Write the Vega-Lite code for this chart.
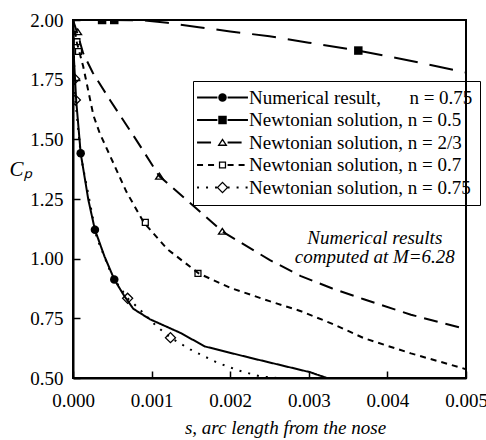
{
  "$schema": "https://vega.github.io/schema/vega-lite/v6.json",
  "width": 393,
  "height": 358,
  "autosize": {"type": "none"},
  "padding": {"left": 73, "top": 20, "right": 20, "bottom": 62},
  "background": "white",
  "config": {
    "font": "Liberation Serif",
    "view": {"stroke": "black", "strokeWidth": 2},
    "axis": {
      "grid": false,
      "domainColor": "black",
      "domainWidth": 2,
      "tickColor": "black",
      "tickWidth": 1.5,
      "labelFont": "Liberation Serif",
      "labelFontSize": 19,
      "labelColor": "black",
      "labelFlush": false,
      "labelOverlap": false,
      "titleFont": "Liberation Serif",
      "titleFontSize": 19,
      "titleFontStyle": "italic",
      "titleFontWeight": "normal",
      "titleColor": "black"
    }
  },
  "datasets": {
    "curves": [
      {"series": "Numerical result,\u00a0\u00a0\u00a0\u00a0\u00a0\u00a0n = 0.75", "s": 0, "cp": 1.99},
      {"series": "Numerical result,\u00a0\u00a0\u00a0\u00a0\u00a0\u00a0n = 0.75", "s": 0.00001, "cp": 1.85},
      {"series": "Numerical result,\u00a0\u00a0\u00a0\u00a0\u00a0\u00a0n = 0.75", "s": 0.00004, "cp": 1.665},
      {"series": "Numerical result,\u00a0\u00a0\u00a0\u00a0\u00a0\u00a0n = 0.75", "s": 0.0000977, "cp": 1.442},
      {"series": "Numerical result,\u00a0\u00a0\u00a0\u00a0\u00a0\u00a0n = 0.75", "s": 0.000195, "cp": 1.247},
      {"series": "Numerical result,\u00a0\u00a0\u00a0\u00a0\u00a0\u00a0n = 0.75", "s": 0.000279, "cp": 1.121},
      {"series": "Numerical result,\u00a0\u00a0\u00a0\u00a0\u00a0\u00a0n = 0.75", "s": 0.0004, "cp": 1.01},
      {"series": "Numerical result,\u00a0\u00a0\u00a0\u00a0\u00a0\u00a0n = 0.75", "s": 0.000525, "cp": 0.913},
      {"series": "Numerical result,\u00a0\u00a0\u00a0\u00a0\u00a0\u00a0n = 0.75", "s": 0.00065, "cp": 0.845},
      {"series": "Numerical result,\u00a0\u00a0\u00a0\u00a0\u00a0\u00a0n = 0.75", "s": 0.000767, "cp": 0.79},
      {"series": "Numerical result,\u00a0\u00a0\u00a0\u00a0\u00a0\u00a0n = 0.75", "s": 0.00098, "cp": 0.746},
      {"series": "Numerical result,\u00a0\u00a0\u00a0\u00a0\u00a0\u00a0n = 0.75", "s": 0.00136, "cp": 0.69},
      {"series": "Numerical result,\u00a0\u00a0\u00a0\u00a0\u00a0\u00a0n = 0.75", "s": 0.00168, "cp": 0.632},
      {"series": "Numerical result,\u00a0\u00a0\u00a0\u00a0\u00a0\u00a0n = 0.75", "s": 0.00225, "cp": 0.585},
      {"series": "Numerical result,\u00a0\u00a0\u00a0\u00a0\u00a0\u00a0n = 0.75", "s": 0.00302, "cp": 0.524},
      {"series": "Numerical result,\u00a0\u00a0\u00a0\u00a0\u00a0\u00a0n = 0.75", "s": 0.00323, "cp": 0.5},
      {"series": "Newtonian solution, n = 0.5", "s": 0, "cp": 2.0},
      {"series": "Newtonian solution, n = 0.5", "s": 0.0004, "cp": 2.0},
      {"series": "Newtonian solution, n = 0.5", "s": 0.0009, "cp": 1.998},
      {"series": "Newtonian solution, n = 0.5", "s": 0.0012, "cp": 1.988},
      {"series": "Newtonian solution, n = 0.5", "s": 0.0016, "cp": 1.97},
      {"series": "Newtonian solution, n = 0.5", "s": 0.002, "cp": 1.952},
      {"series": "Newtonian solution, n = 0.5", "s": 0.0025, "cp": 1.932},
      {"series": "Newtonian solution, n = 0.5", "s": 0.003, "cp": 1.905},
      {"series": "Newtonian solution, n = 0.5", "s": 0.0036, "cp": 1.873},
      {"series": "Newtonian solution, n = 0.5", "s": 0.0041, "cp": 1.842},
      {"series": "Newtonian solution, n = 0.5", "s": 0.0045, "cp": 1.815},
      {"series": "Newtonian solution, n = 0.5", "s": 0.005, "cp": 1.78},
      {"series": "Newtonian solution, n = 2/3", "s": 0, "cp": 2.0},
      {"series": "Newtonian solution, n = 2/3", "s": 0.00006, "cp": 1.94},
      {"series": "Newtonian solution, n = 2/3", "s": 0.00013, "cp": 1.86},
      {"series": "Newtonian solution, n = 2/3", "s": 0.00025, "cp": 1.78},
      {"series": "Newtonian solution, n = 2/3", "s": 0.00047, "cp": 1.665},
      {"series": "Newtonian solution, n = 2/3", "s": 0.0008, "cp": 1.5},
      {"series": "Newtonian solution, n = 2/3", "s": 0.0011, "cp": 1.345},
      {"series": "Newtonian solution, n = 2/3", "s": 0.00157, "cp": 1.21},
      {"series": "Newtonian solution, n = 2/3", "s": 0.0019, "cp": 1.114},
      {"series": "Newtonian solution, n = 2/3", "s": 0.0025, "cp": 0.995},
      {"series": "Newtonian solution, n = 2/3", "s": 0.0029, "cp": 0.927},
      {"series": "Newtonian solution, n = 2/3", "s": 0.0033, "cp": 0.875},
      {"series": "Newtonian solution, n = 2/3", "s": 0.0037, "cp": 0.83},
      {"series": "Newtonian solution, n = 2/3", "s": 0.0043, "cp": 0.765},
      {"series": "Newtonian solution, n = 2/3", "s": 0.005, "cp": 0.705},
      {"series": "Newtonian solution, n = 0.7", "s": 0, "cp": 2.0},
      {"series": "Newtonian solution, n = 0.7", "s": 0.00005, "cp": 1.905},
      {"series": "Newtonian solution, n = 0.7", "s": 0.00013, "cp": 1.805},
      {"series": "Newtonian solution, n = 0.7", "s": 0.00026, "cp": 1.6},
      {"series": "Newtonian solution, n = 0.7", "s": 0.00034, "cp": 1.526},
      {"series": "Newtonian solution, n = 0.7", "s": 0.00068, "cp": 1.28},
      {"series": "Newtonian solution, n = 0.7", "s": 0.0009, "cp": 1.152},
      {"series": "Newtonian solution, n = 0.7", "s": 0.0012, "cp": 1.04},
      {"series": "Newtonian solution, n = 0.7", "s": 0.0016, "cp": 0.938},
      {"series": "Newtonian solution, n = 0.7", "s": 0.002, "cp": 0.878},
      {"series": "Newtonian solution, n = 0.7", "s": 0.0025, "cp": 0.822},
      {"series": "Newtonian solution, n = 0.7", "s": 0.0029, "cp": 0.78},
      {"series": "Newtonian solution, n = 0.7", "s": 0.0033, "cp": 0.727},
      {"series": "Newtonian solution, n = 0.7", "s": 0.0037, "cp": 0.667},
      {"series": "Newtonian solution, n = 0.7", "s": 0.0043, "cp": 0.603},
      {"series": "Newtonian solution, n = 0.7", "s": 0.005, "cp": 0.537},
      {"series": "Newtonian solution, n = 0.75", "s": 0, "cp": 2.0},
      {"series": "Newtonian solution, n = 0.75", "s": 0.00002, "cp": 1.753},
      {"series": "Newtonian solution, n = 0.75", "s": 0.00003, "cp": 1.665},
      {"series": "Newtonian solution, n = 0.75", "s": 0.0001, "cp": 1.43},
      {"series": "Newtonian solution, n = 0.75", "s": 0.0003, "cp": 1.09},
      {"series": "Newtonian solution, n = 0.75", "s": 0.0005, "cp": 0.925},
      {"series": "Newtonian solution, n = 0.75", "s": 0.000695, "cp": 0.834},
      {"series": "Newtonian solution, n = 0.75", "s": 0.00081, "cp": 0.8},
      {"series": "Newtonian solution, n = 0.75", "s": 0.00106, "cp": 0.718},
      {"series": "Newtonian solution, n = 0.75", "s": 0.00124, "cp": 0.669},
      {"series": "Newtonian solution, n = 0.75", "s": 0.00149, "cp": 0.62},
      {"series": "Newtonian solution, n = 0.75", "s": 0.00183, "cp": 0.565},
      {"series": "Newtonian solution, n = 0.75", "s": 0.00212, "cp": 0.53},
      {"series": "Newtonian solution, n = 0.75", "s": 0.00238, "cp": 0.507},
      {"series": "Newtonian solution, n = 0.75", "s": 0.0026, "cp": 0.5}
    ],
    "markers": [
      {"series": "Numerical result,\u00a0\u00a0\u00a0\u00a0\u00a0\u00a0n = 0.75", "s": 0.0000977, "cp": 1.442},
      {"series": "Numerical result,\u00a0\u00a0\u00a0\u00a0\u00a0\u00a0n = 0.75", "s": 0.000279, "cp": 1.121},
      {"series": "Numerical result,\u00a0\u00a0\u00a0\u00a0\u00a0\u00a0n = 0.75", "s": 0.000525, "cp": 0.913},
      {"series": "Newtonian solution, n = 0.5", "s": 0.00037, "cp": 2.0},
      {"series": "Newtonian solution, n = 0.5", "s": 0.000525, "cp": 2.0},
      {"series": "Newtonian solution, n = 0.5", "s": 0.00363, "cp": 1.872},
      {"series": "Newtonian solution, n = 2/3", "s": 0.00006, "cp": 1.95},
      {"series": "Newtonian solution, n = 2/3", "s": 0.0011, "cp": 1.345},
      {"series": "Newtonian solution, n = 2/3", "s": 0.0019, "cp": 1.114},
      {"series": "Newtonian solution, n = 0.7", "s": 0.00005, "cp": 1.909},
      {"series": "Newtonian solution, n = 0.7", "s": 0.00007, "cp": 1.868},
      {"series": "Newtonian solution, n = 0.7", "s": 0.00092, "cp": 1.152},
      {"series": "Newtonian solution, n = 0.7", "s": 0.00159, "cp": 0.938},
      {"series": "Newtonian solution, n = 0.75", "s": 0.00002, "cp": 1.753},
      {"series": "Newtonian solution, n = 0.75", "s": 0.00003, "cp": 1.665},
      {"series": "Newtonian solution, n = 0.75", "s": 0.000695, "cp": 0.834},
      {"series": "Newtonian solution, n = 0.75", "s": 0.00124, "cp": 0.669}
    ],
    "note": [
      {"label": ["Numerical results", "computed at M=6.28"]}
    ]
  },
  "layer": [
    {
      "data": {"name": "curves"},
      "mark": {"type": "line", "stroke": "black", "strokeWidth": 2, "clip": true},
      "encoding": {
        "x": {
          "field": "s",
          "type": "quantitative",
          "scale": {"domain": [0, 0.005], "nice": false, "zero": false},
          "axis": {
            "title": "s, arc length from the nose",
            "values": [0, 0.0005, 0.001, 0.0015, 0.002, 0.0025, 0.003, 0.0035, 0.004, 0.0045, 0.005],
            "labelExpr": "abs(datum.value*1000 - round(datum.value*1000)) < 0.000001 ? format(datum.value, '.3f') : ''",
            "tickSize": {"condition": {"test": "abs(datum.value*1000 - round(datum.value*1000)) < 0.000001", "value": -7}, "value": -4},
            "labelPadding": 20,
            "titleX": 212,
            "titleY": 55.5,
            "titleAlign": "center",
            "titleBaseline": "alphabetic"
          }
        },
        "y": {
          "field": "cp",
          "type": "quantitative",
          "scale": {"domain": [0.5, 2.0], "nice": false, "zero": false},
          "axis": {
            "title": "Cₚ",
            "values": [0.5, 0.625, 0.75, 0.875, 1.0, 1.125, 1.25, 1.375, 1.5, 1.625, 1.75, 1.875, 2.0],
            "labelExpr": "datum.value*4 == round(datum.value*4) ? format(datum.value, '.2f') : ''",
            "tickSize": {"condition": {"test": "datum.value*4 == round(datum.value*4)", "value": -7}, "value": -4},
            "labelPadding": 17,
            "titleAngle": 0,
            "titleX": -53,
            "titleY": 149,
            "titleAlign": "center",
            "titleBaseline": "middle",
            "titleFontSize": 21
          }
        },
        "strokeDash": {
          "field": "series",
          "type": "nominal",
          "sort": ["Numerical result,\u00a0\u00a0\u00a0\u00a0\u00a0\u00a0n = 0.75", "Newtonian solution, n = 0.5", "Newtonian solution, n = 2/3", "Newtonian solution, n = 0.7", "Newtonian solution, n = 0.75"],
          "scale": {
            "range": [[1, 0], [24, 12], [14, 8], [6, 5], [2, 7]]
          },
          "legend": {
            "title": null,
            "orient": "none",
            "legendX": 120,
            "legendY": 61,
            "padding": 7,
            "rowPadding": 2.5,
            "symbolType": "M-6,0H-1.2M1.2,0H6",
            "symbolSize": 72,
            "symbolStrokeColor": "black",
            "symbolStrokeWidth": 1.8,
            "symbolFillColor": "transparent",
            "symbolOffset": 13,
            "labelOffset": 17,
            "labelFont": "Liberation Serif",
            "labelFontSize": 19,
            "labelColor": "black",
            "labelLimit": 400,
            "strokeColor": "black",
            "encode": {"legend": {"strokeWidth": {"value": 1.5}}}
          }
        }
      }
    },
    {
      "data": {"name": "markers"},
      "mark": {"type": "point", "filled": true, "color": "black", "fill": "black", "strokeWidth": 0, "size": 72, "opacity": 1, "clip": true},
      "encoding": {
        "x": {"field": "s", "type": "quantitative"},
        "y": {"field": "cp", "type": "quantitative"},
        "shape": {
          "field": "series",
          "type": "nominal",
          "scale": {
            "domain": ["Numerical result,\u00a0\u00a0\u00a0\u00a0\u00a0\u00a0n = 0.75", "Newtonian solution, n = 0.5", "Newtonian solution, n = 2/3", "Newtonian solution, n = 0.7", "Newtonian solution, n = 0.75"],
            "range": [
              "circle",
              "square",
              "M0,-1L1.2,0.8L-1.2,0.8ZM0,-0.4L-0.6,0.5L0.6,0.5Z",
              "M-0.85,-0.85H0.85V0.85H-0.85ZM-0.55,-0.55V0.55H0.55V-0.55Z",
              "M-1.4,0L0,-1.4L1.4,0L0,1.4ZM-0.98,0L0,0.98L0.98,0L0,-0.98Z"
            ]
          },
          "legend": {
            "title": null,
            "orient": "none",
            "legendX": 120,
            "legendY": 61,
            "padding": 7,
            "rowPadding": 2.5,
            "symbolSize": 72,
            "symbolFillColor": "black",
            "symbolStrokeWidth": 0,
            "symbolOffset": 13,
            "labelOffset": 17,
            "labelFont": "Liberation Serif",
            "labelFontSize": 19,
            "labelOpacity": 0,
            "labelLimit": 400
          }
        }
      }
    },
    {
      "data": {"name": "note"},
      "mark": {"type": "text", "font": "Liberation Serif", "fontStyle": "italic", "fontSize": 19, "align": "center", "baseline": "alphabetic", "lineHeight": 19.5, "fill": "black", "opacity": 1},
      "encoding": {
        "x": {"datum": 0.00384, "type": "quantitative"},
        "y": {"datum": 1.062, "type": "quantitative"},
        "text": {"field": "label"}
      }
    }
  ]
}
